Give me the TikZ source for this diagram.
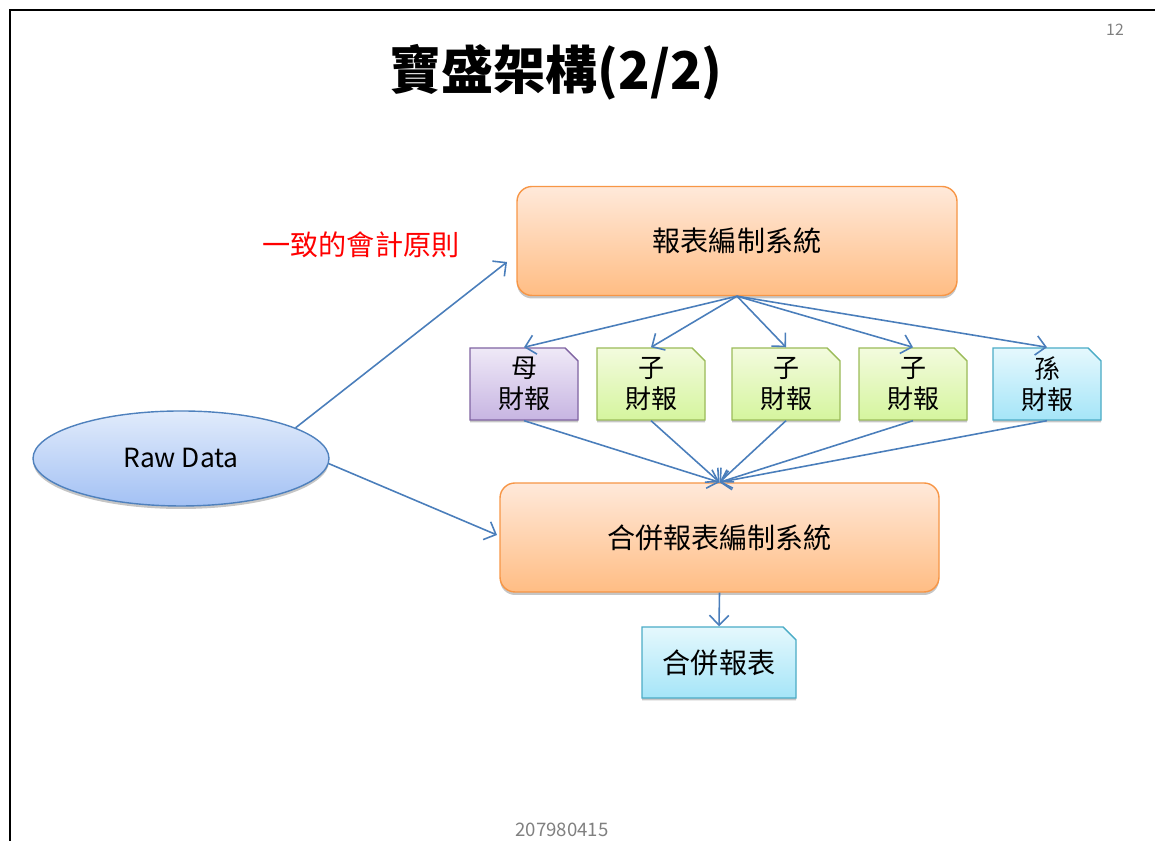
\documentclass[tikz,border=0pt]{standalone}
\usepackage{fontspec}
\newfontfamily\cjk{Noto Sans CJK TC}
\usetikzlibrary{shapes.geometric,shapes.misc,shadows,arrows.meta}
\definecolor{linkblue}{HTML}{4A7EBB}
\definecolor{sysline}{HTML}{F79646}
\definecolor{systop}{HTML}{FFE9DA}
\definecolor{sysbot}{HTML}{FFBD84}
\definecolor{rawline}{HTML}{4F81BD}
\definecolor{rawtop}{HTML}{E1EBFB}
\definecolor{rawbot}{HTML}{A3C1F4}
\definecolor{momline}{HTML}{8064A2}
\definecolor{momtop}{HTML}{EFE9F7}
\definecolor{mombot}{HTML}{C7B5E2}
\definecolor{subline}{HTML}{9BBB59}
\definecolor{subtop}{HTML}{F3FBDE}
\definecolor{subbot}{HTML}{D5F59E}
\definecolor{grandline}{HTML}{4BACC6}
\definecolor{grandtop}{HTML}{E5F8FD}
\definecolor{grandbot}{HTML}{A5E5F8}
\begin{document}
\begin{tikzpicture}[font=\cjk,
    sysbox/.style={draw=sysline, line width=0.4pt, rounded corners=0.15cm,
      minimum width=4.4cm, minimum height=1.09cm,
      top color=systop, bottom color=sysbot,
      drop shadow={shadow xshift=0cm, shadow yshift=-0.03cm, opacity=0.45},
      font=\cjk\fontsize{8}{9.6}\selectfont},
    docbox/.style={chamfered rectangle, chamfered rectangle corners=north east,
      chamfered rectangle sep=0.065cm, line width=0.4pt,
      minimum width=1.08cm, minimum height=0.72cm, inner sep=0pt, align=center,
      drop shadow={shadow xshift=0cm, shadow yshift=-0.025cm, opacity=0.45},
      font=\cjk\fontsize{7.4}{8.8}\selectfont},
    mom/.style={docbox, draw=momline, top color=momtop, bottom color=mombot},
    sub/.style={docbox, draw=subline, top color=subtop, bottom color=subbot},
    grand/.style={docbox, draw=grandline, top color=grandtop, bottom color=grandbot},
    link/.style={draw=linkblue, line width=0.45pt, -{Straight Barb[length=2.8pt,width=5.5pt]}}]
  \useasboundingbox (0,0) rectangle (11.55,8.41);
  \draw[line width=0.6pt] (0.10,0) -- (0.10,8.31) -- (11.55,8.31);
  % title and page marks
  \node (title) at (5.56,7.69) {\fontsize{14.8}{17}\selectfont\bfseries 寶盛架構(2/2)};
  \node[text=gray] (page) at (11.15,8.11) {\fontsize{4.5}{5}\selectfont 12};
  \node[text=gray] (foot) at (5.62,0.11) {\fontsize{5.3}{6}\selectfont 207980415};
  % systems
  \node[sysbox] (sys) at (7.37,6.00) {報表編制系統};
  \node[sysbox, minimum width=4.39cm] (merge) at (7.195,3.035) {合併報表編制系統};
  \node[ellipse, draw=rawline, line width=0.4pt, minimum width=2.96cm, minimum height=0.95cm,
    top color=rawtop, bottom color=rawbot,
    drop shadow={shadow xshift=0cm, shadow yshift=-0.03cm, opacity=0.45},
    font=\cjk\fontsize{7.5}{9}\selectfont] (raw) at (1.81,3.825) {Raw Data};
  \node[text=red, font=\cjk\fontsize{8}{9.6}\selectfont] (rule) at (3.61,5.96) {一致的會計原則};
  % reports
  \node[mom] (mother) at (5.24,4.57) {母\\財報};
  \node[sub] (subA) at (6.51,4.57) {子\\財報};
  \node[sub] (subB) at (7.86,4.57) {子\\財報};
  \node[sub] (subC) at (9.13,4.57) {子\\財報};
  \node[grand] (grandson) at (10.47,4.57) {孫\\財報};
  \node[grand, minimum width=1.54cm, minimum height=0.71cm,
    font=\cjk\fontsize{8}{9.6}\selectfont] (result) at (7.19,1.785) {合併報表};
  % connectors
  \coordinate (toSys) at (5.07,5.79);
  \coordinate (toMerge) at (4.97,3.06);
  \draw[link] (raw.15) -- (toSys);
  \draw[link] (raw.-2) -- (toMerge);
  \draw[link] (sys.south) -- (mother.north);
  \draw[link] (sys.south) -- (subA.north);
  \draw[link] (sys.south) -- (subB.north);
  \draw[link] (sys.south) -- (subC.north);
  \draw[link] (sys.south) -- (grandson.north);
  \draw[link] (mother.south) -- (merge.north);
  \draw[link] (subA.south) -- (merge.north);
  \draw[link] (subB.south) -- (merge.north);
  \draw[link] (subC.south) -- (merge.north);
  \draw[link] (grandson.south) -- (merge.north);
  \draw[link] (merge.south) -- (result.north);
\end{tikzpicture}
\end{document}
